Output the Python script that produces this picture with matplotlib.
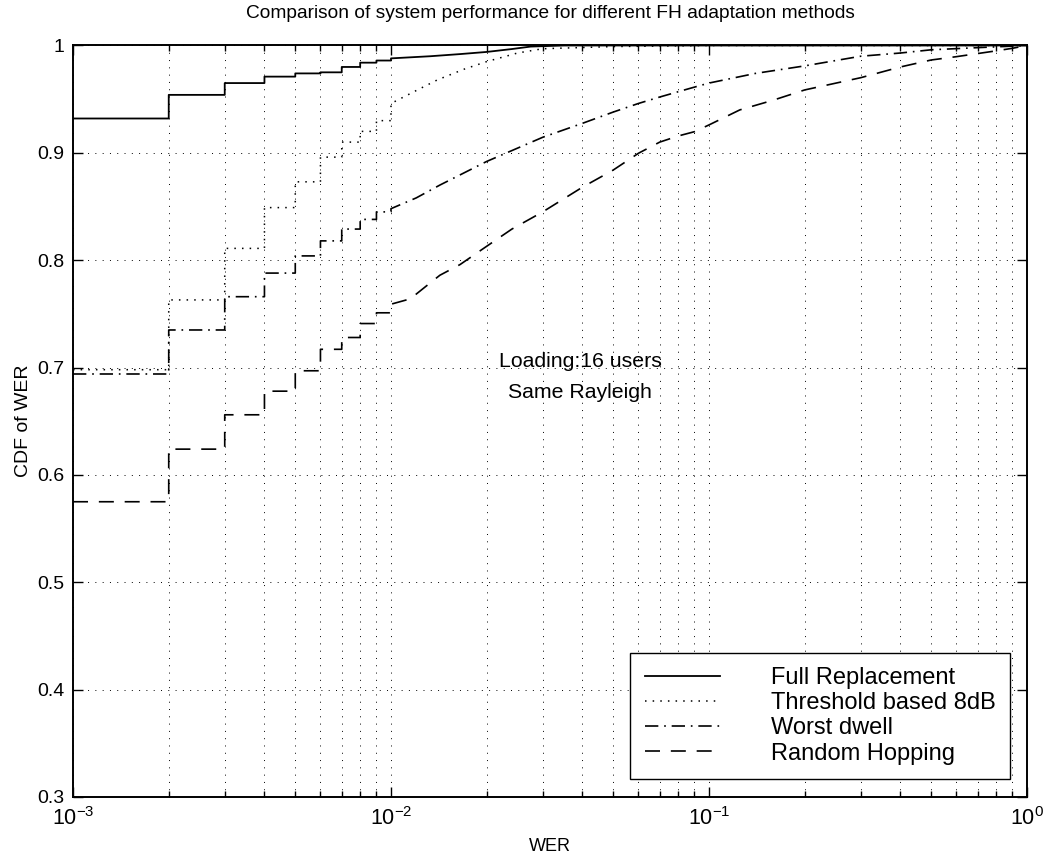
import numpy as np
import matplotlib
matplotlib.use("Agg")
import matplotlib.pyplot as plt
from matplotlib.ticker import LogLocator, FormatStrFormatter, NullFormatter

plt.rcParams['font.family'] = ['Liberation Sans', 'DejaVu Sans']
plt.rcParams['mathtext.fontset'] = 'custom'
plt.rcParams['mathtext.rm'] = 'Liberation Sans'
plt.rcParams['mathtext.it'] = 'Liberation Sans:italic'
plt.rcParams['mathtext.bf'] = 'Liberation Sans:bold'

# ---------------- data ----------------
title = "Comparison of system performance for different FH adaptation methods"
xlabel = "WER"
ylabel = "CDF of WER"
series_names = ["Full Replacement", "Threshold based 8dB", "Worst dwell", "Random Hopping"]

# quantised (stepped) part of each empirical CDF: WER values and CDF after the step
step_wer = [0.001, 0.002, 0.003, 0.004, 0.005, 0.006, 0.007, 0.008, 0.009, 0.010]

full_step = [0.932, 0.954, 0.965, 0.971, 0.974, 0.975, 0.980, 0.984, 0.986, 0.988]
thr_step = [0.698, 0.763, 0.811, 0.849, 0.873, 0.896, 0.910, 0.920, 0.930, 0.946]
worst_step = [0.694, 0.735, 0.766, 0.788, 0.804, 0.818, 0.829, 0.838, 0.845, 0.848]
rand_step = [0.575, 0.624, 0.656, 0.678, 0.697, 0.717, 0.728, 0.741, 0.751, 0.759]

# continuous-looking part (WER > 0.01)
full_wer = [0.0133, 0.0165, 0.020, 0.024, 0.0275, 0.035, 0.06, 1.0]
full_cdf = [0.990, 0.992, 0.994, 0.9967, 0.999, 1.0, 1.0, 1.0]

thr_wer = [0.012, 0.014, 0.017, 0.020, 0.025, 0.030, 0.050, 0.100, 1.0]
thr_cdf = [0.958, 0.968, 0.978, 0.985, 0.993, 0.997, 0.999, 1.0, 1.0]

worst_wer = [0.012, 0.01425, 0.020, 0.030, 0.040, 0.050, 0.060, 0.070, 0.087, 0.100, 0.140,
             0.200, 0.300, 0.400, 0.500, 0.700, 1.0]
worst_cdf = [0.858, 0.870, 0.892, 0.9145, 0.9275, 0.938, 0.946, 0.952, 0.960, 0.965, 0.974,
             0.981, 0.990, 0.993, 0.996, 0.998, 1.0]

rand_wer = [0.0115, 0.0133, 0.01425, 0.0165, 0.020, 0.024, 0.030, 0.040, 0.050, 0.060, 0.070,
            0.080, 0.090, 0.100, 0.125, 0.159, 0.200, 0.300, 0.400, 0.500, 0.600, 0.800,
            0.900, 1.0]
rand_cdf = [0.764, 0.779, 0.786, 0.796, 0.813, 0.829, 0.845, 0.868, 0.884, 0.8996, 0.910,
            0.9157, 0.9197, 0.926, 0.940, 0.949, 0.9586, 0.970, 0.980, 0.9865, 0.9896, 0.995,
            0.9974, 1.0]

annot_lines = ["Loading:16 users", "Same Rayleigh"]

yticks = [0.3, 0.4, 0.5, 0.6, 0.7, 0.8, 0.9, 1.0]


def ecdf_path(sx, sy, cx, cy):
    """Stepped vertices for the quantised part followed by the smooth part."""
    sx = np.asarray(sx, float)
    sy = np.asarray(sy, float)
    xs = np.repeat(sx, 2)[1:]
    ys = np.repeat(sy, 2)[:-1]
    xs = np.concatenate([xs, np.asarray(cx, float)])
    ys = np.concatenate([ys, np.asarray(cy, float)])
    return xs, ys


# ---------------- figure ----------------
fig = plt.figure(figsize=(10.46, 8.60), dpi=100)
ax = fig.add_axes([0.0698, 0.0733, 0.912, 0.8738])

styles = [
    dict(linestyle='-', lw=1.3),
    dict(linestyle=(0, (1.0, 4.0)), lw=1.1),
    dict(linestyle=(0, (8.0, 3.5, 1.0, 3.5)), lw=1.2),
    dict(linestyle=(0, (9.0, 6.5)), lw=1.2),
]
data = [
    (full_step, full_wer, full_cdf),
    (thr_step, thr_wer, thr_cdf),
    (worst_step, worst_wer, worst_cdf),
    (rand_step, rand_wer, rand_cdf),
]
for name, st, (sy, cx, cy) in zip(series_names, styles, data):
    xs, ys = ecdf_path(step_wer, sy, cx, cy)
    ax.plot(xs, ys, color='black', label=name, **st)

ax.set_xscale('log')
ax.set_xlim(1e-3, 1.0)
ax.set_ylim(0.3, 1.0)
ax.set_yticks(yticks)
ax.yaxis.set_major_formatter(FormatStrFormatter('%g'))
ax.xaxis.set_major_locator(LogLocator(base=10, numticks=10))
ax.xaxis.set_minor_locator(LogLocator(base=10, subs=np.arange(2, 10), numticks=100))
ax.xaxis.set_minor_formatter(NullFormatter())

grid_ls = (0, (1.0, 6.5))
ax.grid(True, which='major', linestyle=grid_ls, color='black', lw=0.7)
ax.grid(True, which='minor', axis='x', linestyle=grid_ls, color='black', lw=0.7)

ax.tick_params(which='both', direction='in', top=True, right=True, labelsize=14,
               color='black', width=1.0)
ax.tick_params(axis='x', which='major', labelsize=15.5, pad=7)
ax.tick_params(which='major', length=7)
ax.tick_params(which='minor', length=4)
ax.tick_params(axis='y', which='major', pad=6)
for sp in ax.spines.values():
    sp.set_linewidth(1.4)
    sp.set_color('black')

ax.set_title(title, fontsize=13.8, pad=20)
ax.set_xlabel(xlabel, fontsize=13, labelpad=6)
ax.set_ylabel(ylabel, fontsize=14, labelpad=4)

ax.text(0.0393, 0.706, annot_lines[0], ha='center', va='center', fontsize=15.3)
ax.text(0.0393, 0.677, annot_lines[1], ha='center', va='center', fontsize=15.3)

leg = ax.legend(loc='lower right', bbox_to_anchor=(0.982, 0.024), fontsize=17,
                frameon=True, fancybox=False, shadow=False, framealpha=1,
                edgecolor='black', borderpad=0.6, labelspacing=0.14,
                handlelength=3.2, handletextpad=2.15, borderaxespad=0.0)
leg.get_frame().set_linewidth(1.0)

fig.savefig('out.png', dpi=100)
